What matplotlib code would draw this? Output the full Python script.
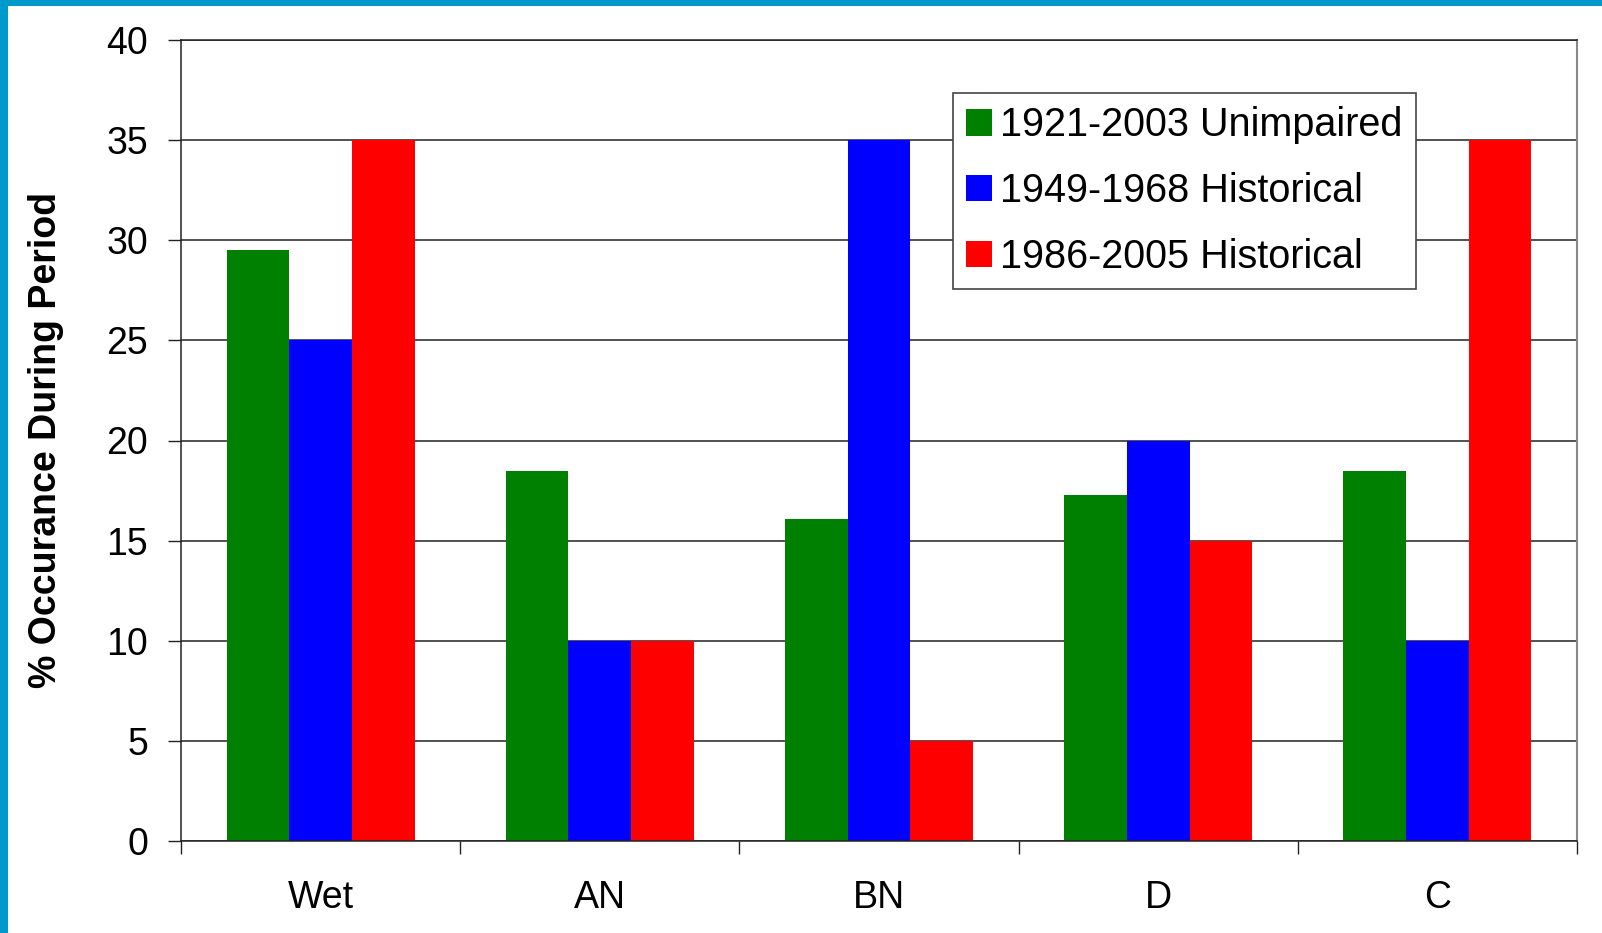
import matplotlib
matplotlib.use("Agg")
import matplotlib.pyplot as plt
import numpy as np
from matplotlib.patches import Rectangle

categories = ["Wet", "AN", "BN", "D", "C"]
series_names = ["1921-2003 Unimpaired", "1949-1968 Historical", "1986-2005 Historical"]
unimpaired = [29.5, 18.5, 16.1, 17.3, 18.5]
hist_1949 = [25, 10, 35, 20, 10]
hist_1986 = [35, 10, 5, 15, 35]
colors = ["#008000", "#0000FF", "#FF0000"]
y_ticks = [0, 5, 10, 15, 20, 25, 30, 35, 40]

plt.rcParams['font.family'] = ['Liberation Sans', 'DejaVu Sans']

W, H = 1602, 933
fig = plt.figure(figsize=(W / 100, H / 100), dpi=100)
fig.patch.set_facecolor("white")

# blue frame (top and left)
fig.patches.append(Rectangle((0, 1 - 6 / H), 1, 6 / H, transform=fig.transFigure,
                             facecolor="#0099CC", edgecolor="none", zorder=10))
fig.patches.append(Rectangle((0, 0), 8 / W, 1, transform=fig.transFigure,
                             facecolor="#0099CC", edgecolor="none", zorder=10))

ax = fig.add_axes([181 / W, (H - 841) / H, 1396 / W, 801 / H])

x = np.arange(len(categories))
bw = 0.2245
series = [unimpaired, hist_1949, hist_1986]
handles = []
for i, (vals, name, c) in enumerate(zip(series, series_names, colors)):
    b = ax.bar(x + (i - 1) * bw, vals, width=bw, color=c, label=name, zorder=2, linewidth=0)
    handles.append(b)

ax.set_xlim(-0.5, len(categories) - 0.5)
ax.set_ylim(0, 40)
ax.set_yticks(y_ticks)
ax.set_yticklabels([str(t) for t in y_ticks], fontsize=27)
ax.tick_params(axis="y", direction="out", length=9.5, width=1, pad=14, color="#222222")

ax.set_xticks(np.arange(len(categories) + 1) - 0.5)
ax.set_xticklabels([""] * (len(categories) + 1))
ax.tick_params(axis="x", which="major", direction="out", length=9, width=1, color="#222222")
ax.set_xticks(x, minor=True)
ax.set_xticklabels(categories, minor=True, fontsize=27)
ax.tick_params(axis="x", which="minor", length=0, pad=28)

ax.yaxis.grid(True, color="#222222", linewidth=1.1, zorder=0)
ax.set_axisbelow(True)
for s in ["left", "bottom", "top"]:
    ax.spines[s].set_color("#222222")
    ax.spines[s].set_linewidth(1.1)
ax.spines["right"].set_color("#888888")
ax.spines["right"].set_linewidth(1.5)

ax.set_ylabel("% Occurance During Period", fontsize=27, fontweight="bold", labelpad=31)

leg = ax.legend(handles=handles, labels=series_names, loc="upper left",
                bbox_to_anchor=((953 - 181) / 1396, (841 - 93) / 801),
                fontsize=28.5, frameon=True, fancybox=False, framealpha=1,
                edgecolor="#444444", handlelength=0.65, handleheight=0.65,
                handletextpad=0.2, labelspacing=0.7, borderpad=0.34,
                borderaxespad=0)
leg.get_frame().set_linewidth(1.2)

fig.savefig("out.png", dpi=100, facecolor="white")
